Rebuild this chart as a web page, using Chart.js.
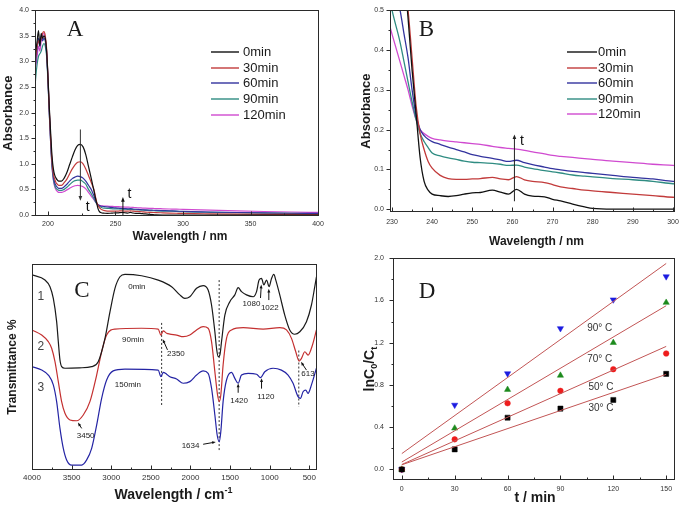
<!DOCTYPE html>
<html><head><meta charset="utf-8">
<script src="https://cdn.jsdelivr.net/npm/chart.js@4.4.1/dist/chart.umd.min.js"></script>
<style>
html,body{margin:0;padding:0;background:#fff;}
#wrap{position:relative;width:685px;height:505px;overflow:hidden;background:#fff;}
canvas{position:absolute;}
</style></head><body>
<div id="wrap">
<canvas id="cA" width="345" height="250" style="left:0;top:0"></canvas>
<canvas id="cB" width="340" height="250" style="left:345px;top:0"></canvas>
<canvas id="cC" width="345" height="260" style="left:0;top:245px"></canvas>
<canvas id="cD" width="340" height="260" style="left:345px;top:245px"></canvas>
</div>
<script>
// ---------------- DATA ----------------
// Panels A & B: UV-vis absorbance spectra
const uvWavelengths = [190,191,192,193,194,195,196,197,198,199,200,201,202,203,204,205,206,207,208,
  210,212,214,216,218,220,222,224,226,228,230,
  232,233,234,235,236,237,238,239,240,
  242,244,246,248,250,252,
  255,257,259,261,263,265,268,270,272,275,278,280,
  285,290,295,300,
  320,340,360,380,400];
const uvSeriesNames = ['0min','30min','60min','90min','120min'];
const uv0min = [2.9,3.2,3.4,3.6,3.3,3.55,3.45,3.5,3.45,3.2,2.7,2.1,1.6,1.15,0.9,0.78,0.72,0.68,0.66,
  0.66,0.72,0.83,0.98,1.13,1.27,1.36,1.38,1.33,1.18,0.95,
  0.72,0.6,0.48,0.35,0.24,0.13,0.07,0.048,0.038,
  0.034,0.032,0.034,0.038,0.041,0.042,
  0.048,0.043,0.038,0.05,0.038,0.033,0.031,0.025,0.021,0.013,0.006,0.002,
  0,0,0,0,
  0,0,0,0,0];
const uv30min = [2.8,3.1,3.3,3.4,3.35,3.45,3.55,3.58,3.5,3.25,2.7,2.05,1.5,1.05,0.8,0.7,0.63,0.6,0.58,
  0.58,0.63,0.7,0.8,0.9,0.98,1.03,1.04,1.0,0.9,0.77,
  0.64,0.57,0.5,0.38,0.26,0.19,0.15,0.12,0.103,
  0.085,0.077,0.075,0.075,0.076,0.077,
  0.08,0.076,0.074,0.082,0.074,0.07,0.067,0.062,0.056,0.052,0.048,0.046,
  0.042,0.038,0.034,0.03,
  0.022,0.016,0.012,0.01,0.008];
const uv60min = [2.75,3.0,3.25,3.45,3.3,3.5,3.4,3.45,3.4,3.15,2.65,2.0,1.45,1.0,0.75,0.63,0.57,0.54,0.52,
  0.52,0.55,0.6,0.66,0.71,0.74,0.76,0.75,0.72,0.66,0.58,
  0.5,0.44,0.38,0.3,0.235,0.2,0.185,0.176,0.17,
  0.163,0.156,0.15,0.144,0.137,0.133,
  0.128,0.124,0.12,0.123,0.117,0.112,0.106,0.102,0.099,0.095,0.092,0.09,
  0.085,0.08,0.076,0.07,
  0.058,0.048,0.04,0.034,0.03];
const uv90min = [2.35,2.7,2.95,3.1,3.15,3.2,3.3,3.35,3.3,3.1,2.6,1.95,1.4,0.95,0.7,0.58,0.52,0.5,0.48,
  0.48,0.5,0.54,0.59,0.64,0.67,0.68,0.68,0.65,0.6,0.5,
  0.42,0.37,0.32,0.27,0.225,0.19,0.17,0.155,0.141,
  0.134,0.129,0.125,0.121,0.118,0.117,
  0.115,0.113,0.11,0.111,0.106,0.102,0.097,0.094,0.091,0.086,0.083,0.081,
  0.077,0.074,0.07,0.064,
  0.052,0.044,0.037,0.031,0.027];
const uv120min = [2.6,2.9,3.1,3.3,3.2,3.4,3.5,3.55,3.45,3.2,2.65,2.0,1.4,0.95,0.68,0.55,0.49,0.46,0.44,
  0.44,0.46,0.49,0.52,0.55,0.57,0.58,0.57,0.55,0.51,0.44,
  0.37,0.335,0.3,0.26,0.225,0.2,0.19,0.183,0.178,
  0.174,0.171,0.169,0.167,0.165,0.163,
  0.158,0.155,0.153,0.151,0.148,0.144,0.139,0.135,0.133,0.13,0.127,0.125,
  0.121,0.117,0.113,0.11,
  0.095,0.08,0.068,0.058,0.05];
const xTicksA = [200,250,300,350,400];
const yTicksA = [0,0.5,1,1.5,2,2.5,3,3.5,4];
const xTicksB = [230,240,250,260,270,280,290,300];
const yTicksB = [0,0.1,0.2,0.3,0.4,0.5];

// Panel C: FTIR spectra (transmittance, arbitrary offset units)
const ir0minX = [4000,3836,3773,3731,3689,3668,3647,3626,3584,3400,3247,3164,3079,3016,2953,2890,2827,2617,2407,2238,2134,2071,2008,1923,1840,1777,1734,1692,1671,1650,1629,1608,1566,1503,1440,1398,1356,1293,1209,1166,1134,1103,1074,1040,1007,977,948,923,873,810,747,684,620,536,473,431,410];
const ir0minY = [94.7,92.2,89,83.3,72,62.3,53.4,50.2,49.4,49.6,50.2,52.6,63.9,76.8,88.2,93.8,95,94.3,92.2,89,85,83.3,84.1,88.2,89.5,87.4,80.1,67.1,59.1,55,55.8,62.3,75.2,81.7,85,88.5,86.6,85,84.1,86.6,92.2,93,89.8,92.2,89,93,95,92.2,85,75.2,68,65.9,67.1,72,80.1,89,93.8];
const ir90minX = [4000,3878,3794,3752,3710,3668,3626,3584,3521,3437,3353,3269,3184,3121,3058,2953,2617,2407,2373,2344,2301,2260,2175,2092,2008,1923,1840,1777,1734,1692,1658,1637,1617,1588,1545,1482,1335,1083,873,788,725,671,629,599,557,516,460,410];
const ir90minY = [68,65.5,62.3,59.1,52.6,42.9,33.2,27.5,24.3,23.9,26.7,33.2,46.1,57.4,65.5,68.4,68.8,68.4,65.5,67.5,66.4,66,65.5,64.7,65.5,68,69.6,68.8,62.3,47.7,36.4,33.2,36.4,51,63.9,68,69.1,68.4,69.1,68,63.9,57.4,52.9,54.2,57.4,55.8,60.7,68];
const ir150minX = [4000,3878,3794,3731,3689,3647,3605,3563,3500,3373,3310,3247,3184,3121,3058,2975,2827,2407,2373,2344,2301,2260,2175,2092,2008,1923,1840,1777,1734,1692,1663,1637,1617,1588,1545,1482,1440,1398,1356,1272,1166,1116,1062,957,852,768,705,642,612,579,545,516,473,410];
const ir150minY = [50.2,48.5,46.1,41.3,33.2,20.2,10.5,4.9,2.4,2.4,4.9,10.5,21.8,34.8,43.7,48.1,49,48.5,45.3,47.4,46.5,45.3,44.2,42.1,42.9,46.1,48.1,46.9,39.7,26.7,17,13.7,18.6,33.2,43.7,47.4,44.5,42.1,46.1,46.9,46.5,44.8,47.7,49.4,48.5,46.1,42.1,35.6,34.8,38,38.8,37.2,41.3,49.4];
const irMarkerX = [2364,1638,633];
const irMarkerTop = [71.4,92.2,58];
const irMarkerBottom = [31.6,8.9,30.7];
const xTicksC = [4000,3500,3000,2500,2000,1500,1000,500];

// Panel D: kinetics ln(C0/Ct) vs t
const tMinutes = [0,30,60,90,120,150];
const temps = ['30° C','50° C','70° C','90° C'];
const k30 = [0,0.19,0.49,0.576,0.658,0.905];
const k50 = [0,0.285,0.627,0.744,0.949,1.098];
const k70 = [0,0.39,0.756,0.89,1.20,1.58];
const k90 = [0,0.61,0.908,1.335,1.607,1.826];
const fitT = [0,150];
const fitStart = [0.044,0.047,0.07,0.15];
const fitEnd = [0.90,1.165,1.55,1.95];
const xTicksD = [0,30,60,90,120,150];
const yTicksD = [0,0.4,0.8,1.2,1.6,2.0];

// ---------------- STYLE ----------------
const SANS = '"Liberation Sans", Arial, Helvetica, sans-serif';
const SERIF = '"Liberation Serif", "Times New Roman", serif';
const uvColors = ['#111111','#c23b3b','#33339e','#2f8c82','#d04ad0'];
const irColors = ['#1a1a1a','#c43030','#2424a4'];
const kColors = ['#000000','#ee1c1c','#1d8a1d','#1c1ce0'];
const kShapes = ['rect','circle','triangle','triangle'];
const kRot = [0,0,0,180];
const fitColor = '#c25555';

function pts(xs, ys){ return xs.map((x,i)=>({x:x, y:ys[i]})); }

function drawText(ctx, s, x, y, font, color, align, base){
  ctx.save(); ctx.font=font; ctx.fillStyle=color||'#222';
  ctx.textAlign=align||'center'; ctx.textBaseline=base||'middle';
  ctx.fillText(s,x,y); ctx.restore();
}
function drawRich(ctx, parts, cx, cy, rot, size){
  ctx.save(); ctx.translate(cx,cy); if(rot) ctx.rotate(rot);
  ctx.fillStyle='#1a1a1a'; ctx.textBaseline='middle'; ctx.textAlign='left';
  let w=0;
  parts.forEach(p=>{ ctx.font='bold '+(p.s?Math.round(size*0.62):size)+'px '+SANS; w+=ctx.measureText(p.t).width; });
  let x=-w/2;
  parts.forEach(p=>{ ctx.font='bold '+(p.s?Math.round(size*0.62):size)+'px '+SANS;
    const dy = p.s===1 ? size*0.32 : (p.s===-1 ? -size*0.35 : 0);
    ctx.fillText(p.t,x,dy); x+=ctx.measureText(p.t).width; });
  ctx.restore();
}
function drawArrow(ctx,x1,y1,x2,y2,head,w,color){
  ctx.save(); ctx.strokeStyle=color; ctx.fillStyle=color; ctx.lineWidth=w;
  const a=Math.atan2(y2-y1,x2-x1);
  ctx.beginPath(); ctx.moveTo(x1,y1); ctx.lineTo(x2-head*0.6*Math.cos(a),y2-head*0.6*Math.sin(a)); ctx.stroke();
  ctx.beginPath(); ctx.moveTo(x2,y2);
  ctx.lineTo(x2-head*Math.cos(a-0.38),y2-head*Math.sin(a-0.38));
  ctx.lineTo(x2-head*Math.cos(a+0.38),y2-head*Math.sin(a+0.38));
  ctx.closePath(); ctx.fill(); ctx.restore();
}
function drawFrame(chart, xt, yt, yOut){
  const ctx=chart.ctx, a=chart.chartArea, xs=chart.scales.x, ys=chart.scales.y;
  ctx.save(); ctx.strokeStyle='#2a2a2a'; ctx.lineWidth=1;
  const L=Math.round(a.left)+0.5, T=Math.round(a.top)+0.5, R=Math.round(a.right)-0.5, B=Math.round(a.bottom)-0.5;
  ctx.strokeRect(L,T,R-L,B-T);
  ctx.beginPath();
  xt.forEach((v,i)=>{
    const p=Math.round(xs.getPixelForValue(v))+0.5;
    ctx.moveTo(p,B); ctx.lineTo(p,B-4);
    if(i<xt.length-1){ const m=Math.round(xs.getPixelForValue((v+xt[i+1])/2))+0.5; ctx.moveTo(m,B); ctx.lineTo(m,B-2); }
  });
  yt.forEach((v,i)=>{
    const p=Math.round(ys.getPixelForValue(v))+0.5;
    if(yOut){ ctx.moveTo(L,p); ctx.lineTo(L-4,p); } else { ctx.moveTo(L,p); ctx.lineTo(L+4,p); }
    if(i<yt.length-1){ const m=Math.round(ys.getPixelForValue((v+yt[i+1])/2))+0.5;
      if(yOut){ ctx.moveTo(L,m); ctx.lineTo(L-2,m);} else { ctx.moveTo(L,m); ctx.lineTo(L+2,m);} }
  });
  ctx.stroke(); ctx.restore();
}
function legendInside(ctx, names, colors, x1, x2, tx, ys){
  names.forEach((n,i)=>{
    ctx.save(); ctx.strokeStyle=colors[i]; ctx.lineWidth=1.4;
    ctx.beginPath(); ctx.moveTo(x1,ys[i]); ctx.lineTo(x2,ys[i]); ctx.stroke(); ctx.restore();
    drawText(ctx,n,tx,ys[i]+0.5,'13px '+SANS,'#1a1a1a','left','middle');
  });
}

function makeOptions(o){
  return {
    responsive:false, animation:false, events:[], devicePixelRatio:1,
    layout:{padding:o.pad},
    plugins:{legend:{display:false}, tooltip:{enabled:false}},
    elements:{point:{radius:0}},
    scales:{
      x:{type:'linear', min:o.xmin, max:o.xmax, reverse:!!o.xrev,
        grid:{display:false, drawTicks:false}, border:{display:false},
        ticks:{font:{family:SANS,size:o.fs}, color:'#333', padding:o.xpad, maxRotation:0, autoSkip:false,
          callback:v=>String(Math.round(v))},
        afterBuildTicks:s=>{ s.ticks=o.xticks.map(v=>({value:v})); },
        afterFit:s=>{ s.height=o.xh; }},
      y:{type:'linear', min:o.ymin, max:o.ymax,
        grid:{display:false, drawTicks:false}, border:{display:false},
        ticks:{display:o.yticks.length>0, font:{family:SANS,size:o.fs}, color:'#333', padding:o.ypad, autoSkip:false,
          callback:v=>Number(v).toFixed(1)},
        afterBuildTicks:s=>{ if(o.yticks.length) s.ticks=o.yticks.map(v=>({value:v})); },
        afterFit:s=>{ s.width=o.yw; }}
    }
  };
}

const uvAll = [uv0min,uv30min,uv60min,uv90min,uv120min];
function uvDatasets(w){
  return uvAll.map((s,i)=>({label:uvSeriesNames[i], data:pts(uvWavelengths,s), borderColor:uvColors[i],
    borderWidth:w, pointRadius:0, fill:false, cubicInterpolationMode:'monotone'}));
}

// ---------------- PANEL A ----------------
new Chart(document.getElementById('cA'), {
  type:'line',
  data:{datasets:uvDatasets(1.2)},
  options:makeOptions({pad:{left:0,right:26,top:4,bottom:0}, xmin:190.4, xmax:400.7, ymin:-0.02, ymax:4.0,
    xticks:xTicksA, yticks:yTicksA, xh:34, yw:35, fs:7, xpad:4, ypad:6}),
  plugins:[{id:'decoA', afterDraw(chart){
    const ctx=chart.ctx, a=chart.chartArea, xs=chart.scales.x, ys=chart.scales.y;
    drawFrame(chart,xTicksA,yTicksA,true);
    drawArrow(ctx,xs.getPixelForValue(224),ys.getPixelForValue(1.67),xs.getPixelForValue(224),ys.getPixelForValue(0.28),5,1,'#333');
    drawArrow(ctx,xs.getPixelForValue(255.5),ys.getPixelForValue(0.0),xs.getPixelForValue(255.5),ys.getPixelForValue(0.35),5,1,'#111');
    drawText(ctx,'t',xs.getPixelForValue(229.5),ys.getPixelForValue(0.15),'14px '+SANS,'#111');
    drawText(ctx,'t',xs.getPixelForValue(260.3),ys.getPixelForValue(0.41),'14px '+SANS,'#111');
    drawText(ctx,'A',75,30,'23px '+SERIF,'#1a1a1a');
    legendInside(ctx,uvSeriesNames,uvColors,211,239,243,[52,68,83,99,115]);
    drawRich(ctx,[{t:'Absorbance'}],8,(a.top+a.bottom)/2,-Math.PI/2,13);
    drawRich(ctx,[{t:'Wavelength / nm'}],(a.left+a.right)/2+3,237,0,12);
  }}]
});

// ---------------- PANEL B ----------------
new Chart(document.getElementById('cB'), {
  type:'line',
  data:{datasets:uvDatasets(1.3)},
  options:makeOptions({pad:{left:0,right:10,top:5,bottom:0}, xmin:229.5, xmax:300.5, ymin:-0.007, ymax:0.5,
    xticks:xTicksB, yticks:yTicksB, xh:38, yw:45, fs:7, xpad:6, ypad:6}),
  plugins:[{id:'decoB', afterDraw(chart){
    const ctx=chart.ctx, a=chart.chartArea, xs=chart.scales.x, ys=chart.scales.y;
    drawFrame(chart,xTicksB,yTicksB,true);
    drawArrow(ctx,xs.getPixelForValue(260.5),ys.getPixelForValue(0.02),xs.getPixelForValue(260.5),ys.getPixelForValue(0.188),5,1,'#222');
    drawText(ctx,'t',xs.getPixelForValue(262.4),ys.getPixelForValue(0.172),'14px '+SANS,'#111');
    drawText(ctx,'B',81.5,29.5,'23px '+SERIF,'#1a1a1a');
    legendInside(ctx,uvSeriesNames,uvColors,222,252,253,[52,68,83,99,114]);
    drawRich(ctx,[{t:'Absorbance'}],21,(a.top+a.bottom)/2,-Math.PI/2,13);
    drawRich(ctx,[{t:'Wavelength / nm'}],(a.left+a.right)/2+4,242,0,12);
  }}]
});

// ---------------- PANEL C ----------------
const irSets = [[ir0minX,ir0minY],[ir90minX,ir90minY],[ir150minX,ir150minY]];
const cDatasets = irSets.map((s,i)=>({data:pts(s[0],s[1]), borderColor:irColors[i], borderWidth:1.2, pointRadius:0,
  fill:false, cubicInterpolationMode:'monotone'}));
irMarkerX.forEach((x,i)=>{
  cDatasets.push({data:[{x:x,y:irMarkerTop[i]},{x:x,y:irMarkerBottom[i]}], borderColor:'#333', borderWidth:1,
    borderDash:[2,2], pointRadius:0, fill:false});
});
const cNotes = [
  {t:'0min',x:2676,y:88.8},{t:'90min',x:2726,y:63.1},{t:'150min',x:2789,y:41.3},
  {t:'1080',x:1230,y:80.9},{t:'1022',x:999,y:78.8},{t:'2350',x:2184,y:56.3},{t:'613',x:516,y:46.9},
  {t:'1420',x:1386,y:33.5},{t:'1120',x:1049,y:35.6},{t:'3450',x:3323,y:16.5},{t:'1634',x:1999,y:11.8}];
const cNums = [{t:'1',x:3887,y:84},{t:'2',x:3887,y:59.7},{t:'3',x:3887,y:39.8}];
const cArrows = [
  [2290,58.3,2350,63.5],[536,48.5,605,52.5],[1398,37.5,1398,42],[1103,39.5,1103,44.5],
  [1116,83.5,1106,90],[1011,82.5,1011,88],[3373,20.2,3420,23],[1840,12.5,1680,13.6]];
new Chart(document.getElementById('cC'), {
  type:'line',
  data:{datasets:cDatasets},
  options:makeOptions({pad:{left:0,right:28,top:19,bottom:0}, xmin:403, xmax:4000, xrev:true, ymin:0, ymax:100,
    xticks:xTicksC, yticks:[], xh:35, yw:32, fs:8, xpad:3, ypad:4}),
  plugins:[{id:'decoC', afterDraw(chart){
    const ctx=chart.ctx, a=chart.chartArea, xs=chart.scales.x, ys=chart.scales.y;
    drawFrame(chart,xTicksC,[],true);
    cNotes.forEach(n=>drawText(ctx,n.t,xs.getPixelForValue(n.x),ys.getPixelForValue(n.y),'8px '+SANS,'#222'));
    cNums.forEach(n=>drawText(ctx,n.t,xs.getPixelForValue(n.x),ys.getPixelForValue(n.y),'12px '+SANS,'#444'));
    cArrows.forEach(r=>drawArrow(ctx,xs.getPixelForValue(r[0]),ys.getPixelForValue(r[1]),xs.getPixelForValue(r[2]),ys.getPixelForValue(r[3]),4,1,'#111'));
    drawText(ctx,'C',82,46,'23px '+SERIF,'#1a1a1a');
    drawRich(ctx,[{t:'Transmittance %'}],13,(a.top+a.bottom)/2,-Math.PI/2,12);
    drawRich(ctx,[{t:'Wavelength / cm'},{t:'-1',s:-1}],(a.left+a.right)/2-1,250,0,14);
  }}]
});

// ---------------- PANEL D ----------------
const kAll = [k30,k50,k70,k90];
const dDatasets = [];
kAll.forEach((k,i)=>{
  dDatasets.push({data:[{x:fitT[0],y:fitStart[i]},{x:fitT[1],y:fitEnd[i]}], borderColor:fitColor, borderWidth:1,
    pointRadius:0, fill:false});
});
kAll.forEach((k,i)=>{
  dDatasets.push({data:pts(tMinutes,k), showLine:false, pointStyle:kShapes[i], pointRotation:kRot[i],
    pointRadius:kShapes[i]==='circle'?2.8:3.6, pointBackgroundColor:kColors[i], pointBorderColor:kColors[i], pointBorderWidth:0.5});
});
const dNotes = [{t:'90° C',x:112.3,y:1.335},{t:'70° C',x:112.3,y:1.047},{t:'50° C',x:113,y:0.782},{t:'30° C',x:113,y:0.578}];
new Chart(document.getElementById('cD'), {
  type:'line',
  data:{datasets:dDatasets},
  options:makeOptions({pad:{left:0,right:10,top:13,bottom:0}, xmin:-5, xmax:155, ymin:-0.1, ymax:2.0,
    xticks:xTicksD, yticks:yTicksD, xh:25, yw:48, fs:7, xpad:5, ypad:9}),
  plugins:[{id:'decoD', afterDraw(chart){
    const ctx=chart.ctx, a=chart.chartArea, xs=chart.scales.x, ys=chart.scales.y;
    drawFrame(chart,xTicksD,yTicksD,true);
    dNotes.forEach(n=>drawText(ctx,n.t,xs.getPixelForValue(n.x),ys.getPixelForValue(n.y),'10px '+SANS,'#333'));
    drawText(ctx,'D',82,47,'23px '+SERIF,'#1a1a1a');
    drawRich(ctx,[{t:'lnC'},{t:'0',s:1},{t:'/C'},{t:'t',s:1}],25,(a.top+a.bottom)/2,-Math.PI/2,14);
    drawRich(ctx,[{t:'t / min'}],(a.left+a.right)/2+1,253,0,14);
  }}]
});
</script>
</body></html>
